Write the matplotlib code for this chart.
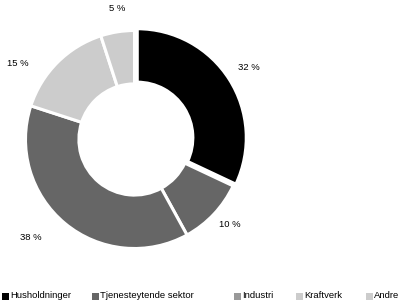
import matplotlib
matplotlib.use("Agg")
import matplotlib.pyplot as plt
import numpy as np
from matplotlib.patches import Rectangle

categories = ["Husholdninger", "Tjenesteytende sektor", "Industri", "Kraftverk", "Andre"]
values = [32, 10, 38, 15, 5]
slice_colors = ["#000000", "#666666", "#666666", "#cccccc", "#cccccc"]
legend_colors = ["#000000", "#666666", "#999999", "#cccccc", "#cccccc"]

# label layout tweaks (radial distance as fraction of radius, angular nudge in degrees)
label_dist = [1.24, 1.17, 1.31, 1.28, 1.21]
label_nudge = [0, 1.5, -7, 12, -1.5]

plt.rcParams['font.family'] = ['Liberation Sans', 'DejaVu Sans']

W, H = 400, 303
fig = plt.figure(figsize=(W / 100, H / 100), dpi=100)
cx, cy, R = 134.5, 303 - 139.5, 109
ax = fig.add_axes([(cx - R) / W, (cy - R) / H, 2 * R / W, 2 * R / H])

wedges, texts = ax.pie(
    values, colors=slice_colors, startangle=90, counterclock=False,
    explode=[0.03, 0, 0, 0, 0],
    wedgeprops=dict(width=0.49, edgecolor="white", linewidth=2.2))
ax.set_xlim(-1, 1)
ax.set_ylim(-1, 1)
ax.set_aspect("equal")

total = sum(values)
for w, v, d, n in zip(wedges, values, label_dist, label_nudge):
    ang = np.deg2rad((w.theta1 + w.theta2) / 2 + n)
    ax.text(d * np.cos(ang), d * np.sin(ang), f"{100 * v / total:.0f} %",
            ha="center", va="center", fontsize=6.8, color="#000000")

# legend row, positioned manually
leg_x = [2, 92, 234, 296, 366]
leg_y = 296
sq = 7
for x, c, name in zip(leg_x, legend_colors, categories):
    fig.patches.append(Rectangle((x / W, (H - leg_y - sq / 2) / H), sq / W, sq / H,
                                 transform=fig.transFigure, facecolor=c,
                                 edgecolor="none"))
    fig.text((x + sq + 1) / W, (H - leg_y) / H, name, fontsize=6.8,
             ha="left", va="center", color="#000000")

fig.savefig("out.png", dpi=100)
